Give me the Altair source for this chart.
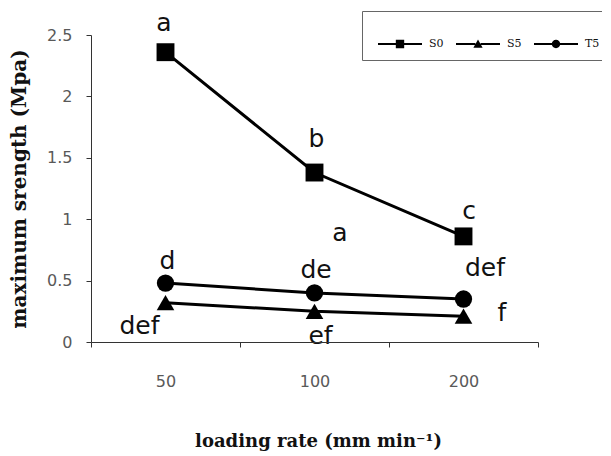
import altair as alt
import pandas as pd

# ---- data ----
categories = ["50", "100", "200"]
series = ["S0", "S5", "T5"]
s0_values = [2.36, 1.38, 0.86]
s5_values = [0.32, 0.25, 0.21]
t5_values = [0.48, 0.40, 0.35]

label_text = ["a", "b", "c", "a", "d", "de", "def", "def", "ef", "f"]
label_x = ["50", "100", "200", "100", "50", "100", "200", "50", "100", "200"]
label_y = [2.53, 1.59, 1.005, 0.825, 0.596, 0.523, 0.539, 0.065, -0.016, 0.172]
label_dx = [-1.5, 2, 5.5, 25.5, 2, 1.5, 21.5, -26, 6, 38.5]

y_ticks = [0, 0.5, 1, 1.5, 2, 2.5]

rows = []
for name, vals in zip(series, [s0_values, s5_values, t5_values]):
    for c, v in zip(categories, vals):
        rows.append({"rate": c, "value": v, "series": name})
df = pd.DataFrame(rows)

x_enc = alt.X(
    "rate:O",
    sort=categories,
    scale=alt.Scale(type="band", paddingInner=0, paddingOuter=0),
    axis=alt.Axis(
        title="loading rate (mm min\u207b\u00b9)",
        titleFont="DejaVu Serif",
        titleFontWeight="bold",
        titleFontSize=18,
        titleColor="#111",
        titleBaseline="alphabetic",
        titleX=227,
        titleY=104,
        labelAngle=0,
        labelFont="DejaVu Sans",
        labelFontSize=16,
        labelColor="#595959",
        labelPadding=26,
        tickBand="extent",
        tickSize=5,
        tickColor="#333",
        domainColor="#333",
        grid=False,
        zindex=1,
    ),
)
y_scale = alt.Scale(domain=[0, 2.5], nice=False, zero=True)
y_enc = alt.Y(
    "value:Q",
    scale=y_scale,
    axis=alt.Axis(
        title="maximum srength (Mpa)",
        titleFont="DejaVu Serif",
        titleFontWeight="bold",
        titleFontSize=20,
        titleColor="#111",
        titleX=-62,
        values=y_ticks,
        format="~g",
        labelFont="DejaVu Sans",
        labelFontSize=16,
        labelColor="#595959",
        labelPadding=14,
        tickSize=5,
        tickColor="#333",
        domainColor="#333",
        grid=False,
        zindex=1,
    ),
)

base = alt.Chart(df)

lines = base.mark_line(color="black", strokeWidth=3).encode(
    x=x_enc, y=y_enc, detail="series:N"
)

points = base.mark_point(filled=True, color="black", opacity=1).encode(
    x=x_enc,
    y=y_enc,
    shape=alt.Shape(
        "series:N",
        scale=alt.Scale(domain=series, range=["square", "triangle-up", "circle"]),
        legend=None,
    ),
    size=alt.Size(
        "series:N",
        scale=alt.Scale(domain=series, range=[320, 300, 270]),
        legend=None,
    ),
)

# legend glyphs: a short line with the marker in its middle (all filled areas)
stub = "M-1,-0.045H-0.12V0.045H-1Z M0.12,-0.045H1V0.045H0.12Z "
legend_paths = [
    stub + "M-0.19,-0.19H0.19V0.19H-0.19Z",
    stub + "M-0.21,0.17L0,-0.2L0.21,0.17Z",
    stub + "M-0.19,0A0.19,0.19,0,1,1,0.19,0A0.19,0.19,0,1,1,-0.19,0Z",
]

legend_layer = (
    base.transform_filter("false")
    .mark_point(filled=True, color="black", opacity=1)
    .encode(
        x=x_enc,
        y=y_enc,
        shape=alt.Shape(
            "series:N",
            scale=alt.Scale(domain=series, range=legend_paths),
            legend=alt.Legend(
                orient="none",
                legendX=271,
                legendY=-24,
                direction="horizontal",
                title=" ",
                titleOrient="left",
                titlePadding=5,
                strokeColor="#666",
                fillColor="white",
                padding=11,
                symbolSize=1936,
                symbolStrokeWidth=0,
                symbolFillColor="black",
                labelFont="DejaVu Serif",
                labelFontSize=11,
                labelColor="#111",
                labelOffset=7,
                columnPadding=12,
            ),
        ),
    )
)

label_layers = []
for t, xc, yv, dx in zip(label_text, label_x, label_y, label_dx):
    ldf = pd.DataFrame({"rate": [xc], "value": [yv], "txt": [t]})
    label_layers.append(
        alt.Chart(ldf)
        .mark_text(
            font="DejaVu Sans",
            fontSize=25,
            color="#111",
            align="center",
            baseline="alphabetic",
            dx=dx,
        )
        .encode(x=x_enc, y=y_enc, text="txt:N")
    )

chart = (
    alt.layer(lines, points, legend_layer, *label_layers)
    .resolve_scale(shape="independent")
    .properties(
        width=447,
        height=307,
        autosize=alt.AutoSizeParams(type="none"),
        padding={"left": 83, "top": 27, "right": 64, "bottom": 110},
        background="white",
    )
    .configure_view(stroke=None)
)

chart.save("out.html", embed_options={"renderer": "svg", "actions": False})
